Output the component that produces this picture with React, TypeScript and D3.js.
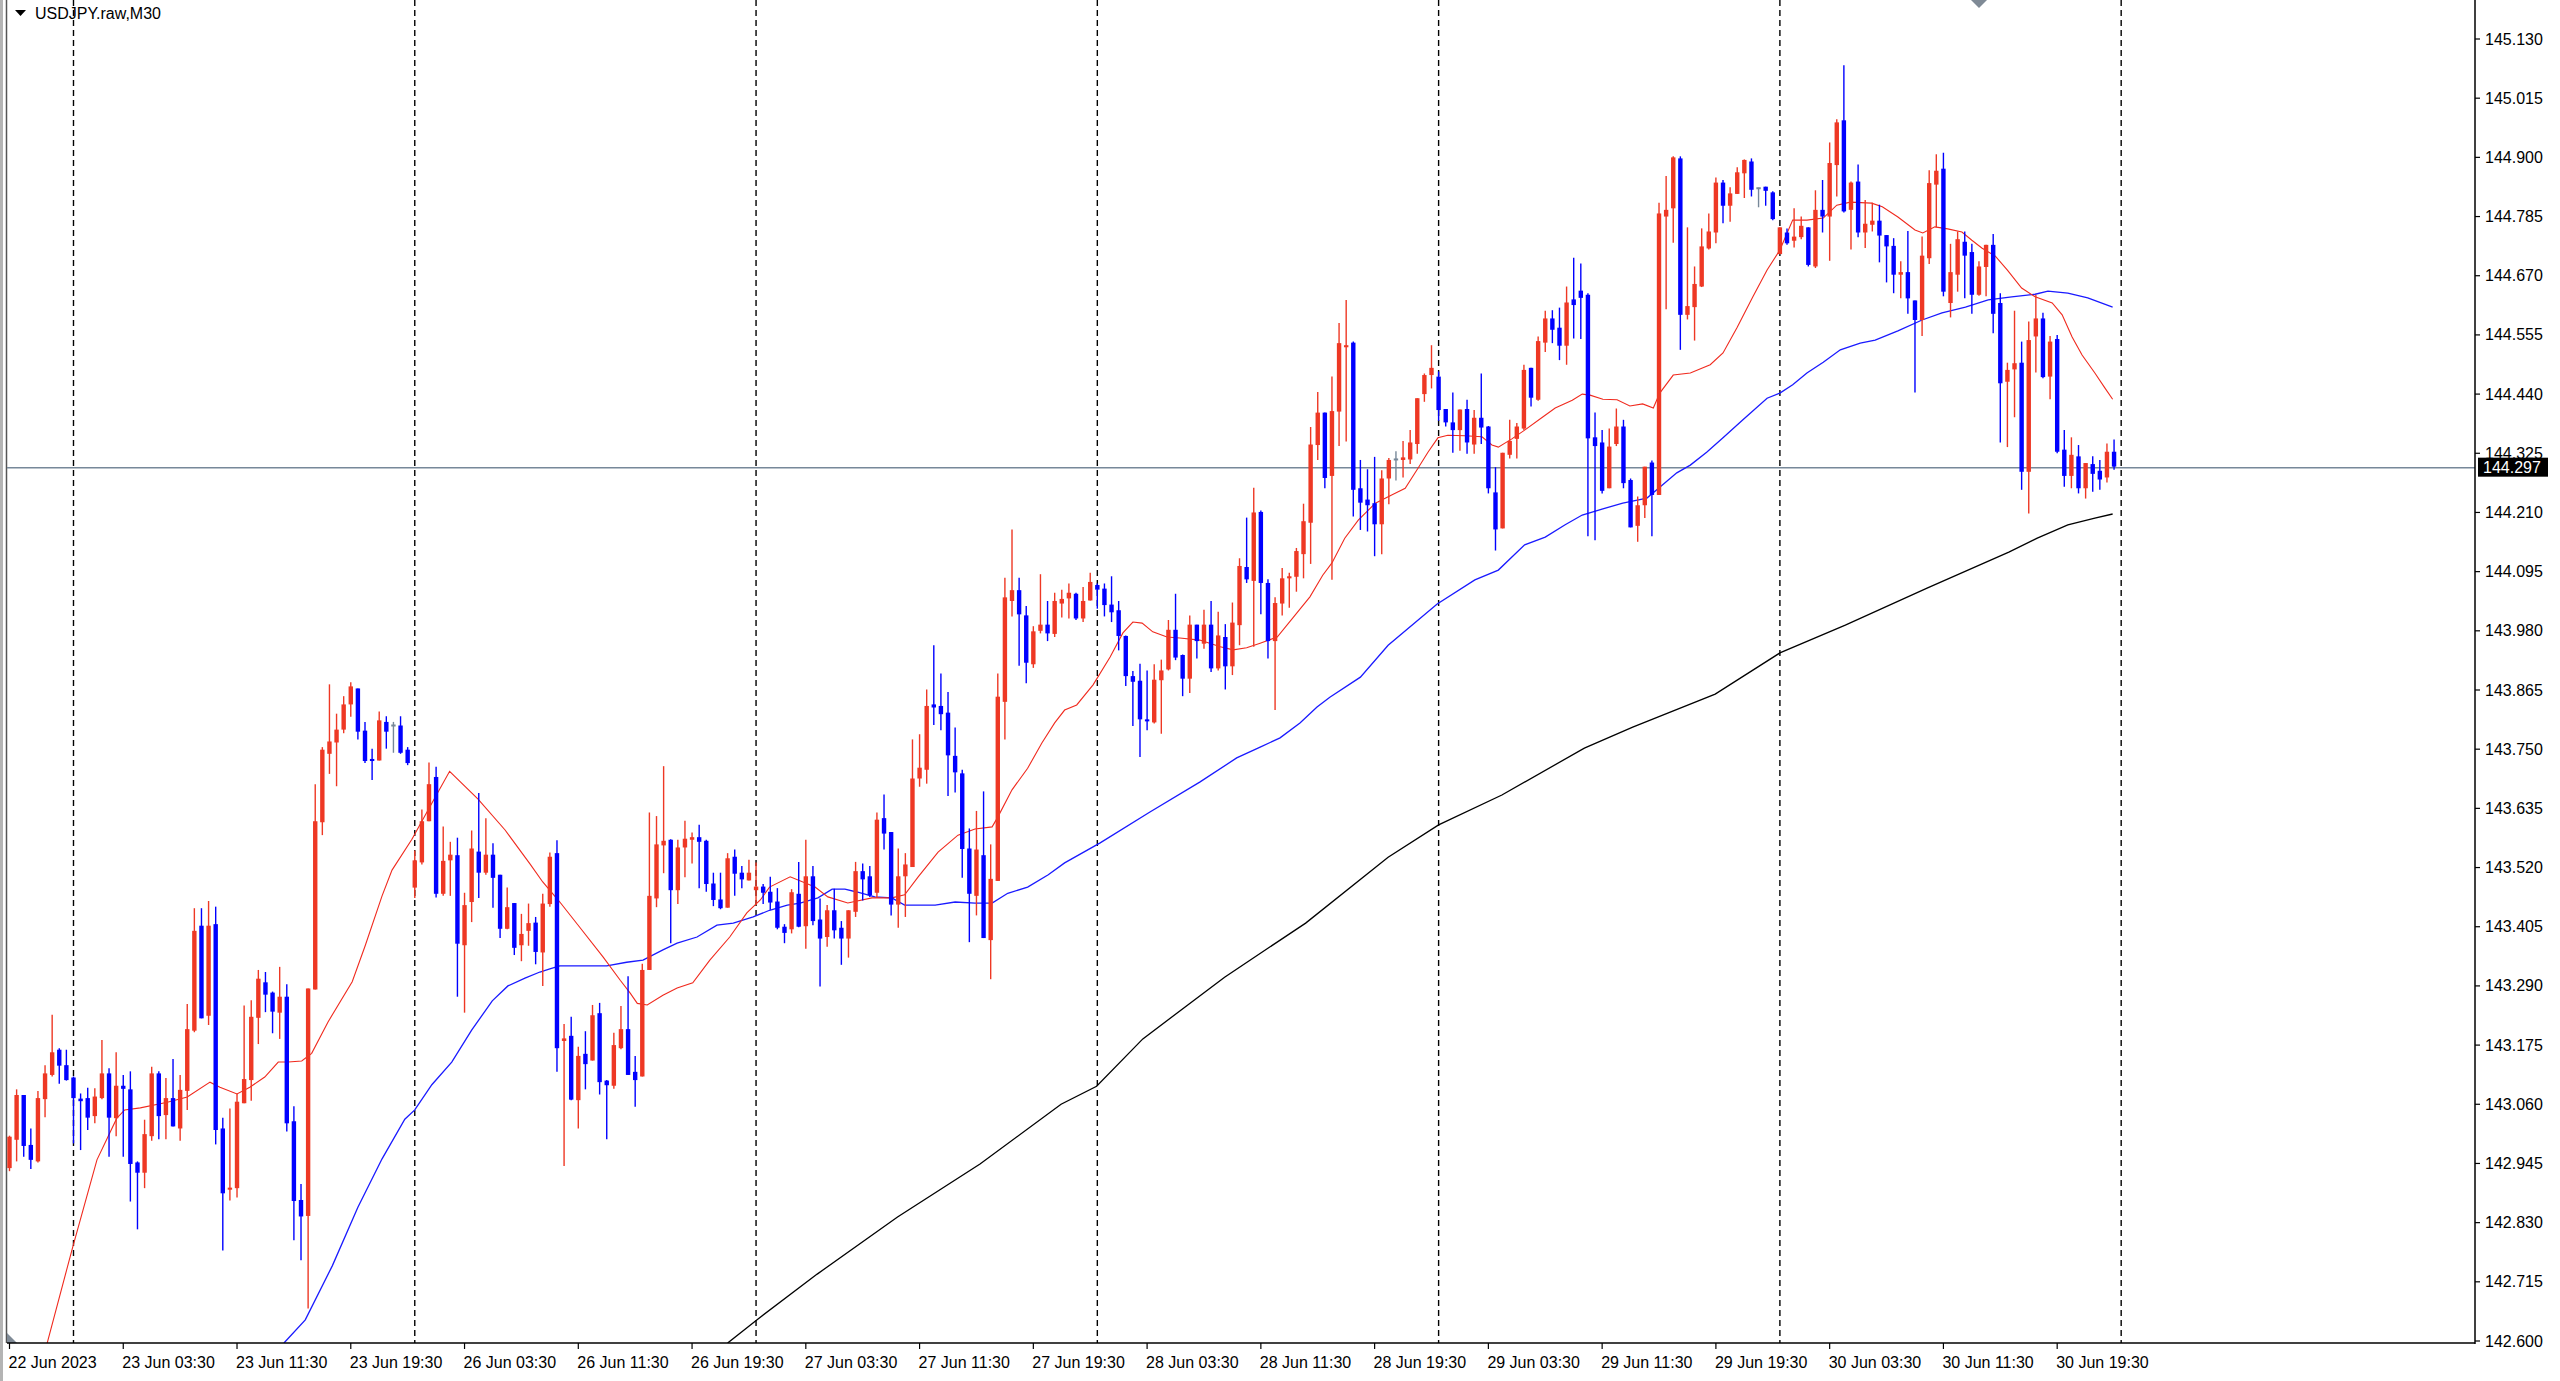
import React, { useRef, useEffect } from 'react';
import * as d3 from 'd3';

// USDJPY.raw M30, 22 Jun 19:30 .. 30 Jun 23:30 (bar index 0..296)
const opens = [
  142.936,142.991,143.078,142.981,142.949,143.070,143.117,143.166,143.136,143.112,
  143.071,143.072,143.037,143.072,143.120,143.033,143.096,143.089,142.947,142.927,
  142.998,143.120,143.039,143.072,143.013,143.086,143.203,143.407,143.232,143.410,
  143.013,142.894,142.897,143.062,143.107,143.228,143.297,143.277,143.238,143.269,
  143.027,142.874,142.843,143.283,143.608,143.741,143.763,143.788,143.837,143.868,
  143.786,143.731,143.728,143.803,143.796,143.796,143.749,143.481,143.530,143.610,
  143.696,143.469,143.534,143.544,143.369,143.453,143.551,143.510,143.545,143.506,
  143.401,143.451,143.369,143.397,143.413,143.355,143.449,143.548,143.183,143.193,
  143.068,143.158,143.145,143.237,143.106,143.096,143.169,143.206,143.123,143.114,
  143.321,143.460,143.563,143.574,143.476,143.559,143.574,143.579,143.572,143.489,
  143.458,143.442,143.541,143.510,143.495,143.476,143.483,143.473,143.454,143.405,
  143.400,143.469,143.406,143.503,143.419,143.385,143.437,143.403,143.382,143.434,
  143.513,143.503,143.471,143.616,143.589,143.448,143.503,143.521,143.693,143.710,
  143.837,143.834,143.821,143.737,143.703,143.557,143.465,143.544,143.379,143.494,
  143.842,144.038,144.059,144.010,143.915,143.980,143.992,143.974,144.033,144.043,
  144.052,144.004,144.039,144.069,144.062,144.031,144.020,143.970,143.892,143.883,
  143.806,143.802,143.884,143.905,143.982,143.933,143.887,143.992,143.955,143.992,
  143.907,143.968,143.911,143.991,144.104,144.077,144.211,144.073,143.960,144.033,
  144.082,144.085,144.129,144.190,144.341,144.404,144.281,144.406,144.531,144.540,
  144.257,144.235,144.228,144.187,144.276,144.313,144.312,144.313,144.343,144.440,
  144.477,144.474,144.411,144.385,144.370,144.411,144.342,144.394,144.377,144.249,
  144.179,144.322,144.353,144.373,144.491,144.429,144.540,144.587,144.569,144.534,
  144.624,144.641,144.633,144.356,144.346,144.257,144.343,144.377,144.273,144.184,
  144.224,144.307,144.244,144.785,144.801,144.898,144.594,144.609,144.649,144.723,
  144.754,144.851,144.806,144.829,144.869,144.892,144.840,144.843,144.832,144.712,
  144.754,144.738,144.745,144.764,144.688,144.798,144.785,144.885,144.972,144.798,
  144.853,144.754,144.769,144.777,144.749,144.728,144.672,144.677,144.622,144.584,
  144.704,144.847,144.878,144.617,144.672,144.736,144.716,144.633,144.687,144.730,
  144.617,144.464,144.488,144.501,144.289,144.552,144.587,144.474,144.547,144.332,
  144.281,144.319,144.257,144.304,144.291,144.278,144.328,
];

const highs = [
  142.999,143.089,143.078,143.013,143.086,143.136,143.234,143.169,143.166,143.114,
  143.081,143.092,143.091,143.185,143.130,143.161,143.117,143.124,142.949,143.030,
  143.133,143.124,143.111,143.148,143.117,143.255,143.441,143.441,143.455,143.444,
  143.034,143.052,143.081,143.252,143.262,143.321,143.317,143.279,143.327,143.293,
  143.056,142.905,143.285,143.682,143.754,143.876,143.819,143.853,143.880,143.868,
  143.803,143.751,143.823,143.814,143.803,143.814,143.754,143.553,143.633,143.724,
  143.716,143.600,143.570,143.578,143.471,143.592,143.665,143.616,143.567,143.506,
  143.481,143.451,143.430,143.450,143.424,143.469,143.549,143.573,143.216,143.230,
  143.172,143.202,143.253,143.257,143.107,143.199,143.251,143.309,143.154,143.333,
  143.627,143.620,143.717,143.575,143.574,143.611,143.588,143.603,143.574,143.510,
  143.510,143.548,143.555,143.523,143.535,143.530,143.488,143.502,143.480,143.410,
  143.478,143.531,143.574,143.523,143.460,143.447,143.479,143.416,143.437,143.531,
  143.528,143.523,143.627,143.662,143.589,143.557,143.548,143.769,143.779,143.866,
  143.952,143.897,143.861,143.792,143.710,143.596,143.630,143.668,143.565,143.897,
  144.083,144.177,144.083,144.028,143.989,144.090,144.038,144.054,144.060,144.072,
  144.054,144.065,144.093,144.072,144.072,144.086,144.038,143.971,143.902,143.916,
  143.903,143.915,143.924,144.001,144.052,143.934,144.010,143.992,144.021,144.038,
  144.017,143.993,144.035,144.121,144.200,144.258,144.214,144.080,144.045,144.102,
  144.093,144.141,144.227,144.376,144.444,144.404,144.474,144.578,144.623,144.542,
  144.312,144.294,144.318,144.292,144.316,144.329,144.349,144.370,144.432,144.480,
  144.535,144.484,144.411,144.443,144.410,144.429,144.409,144.480,144.378,144.298,
  144.326,144.390,144.384,144.497,144.491,144.552,144.602,144.603,144.608,144.649,
  144.705,144.694,144.636,144.404,144.370,144.373,144.412,144.390,144.276,144.241,
  144.299,144.311,144.812,144.864,144.902,144.902,144.764,144.688,144.762,144.791,
  144.861,144.856,144.842,144.881,144.896,144.898,144.841,144.843,144.834,144.764,
  144.762,144.801,144.785,144.764,144.836,144.856,144.929,144.974,145.079,144.853,
  144.886,144.817,144.812,144.808,144.749,144.743,144.698,144.757,144.622,144.746,
  144.875,144.906,144.909,144.732,144.756,144.756,144.732,144.698,144.730,144.751,
  144.636,144.501,144.602,144.542,144.581,144.633,144.598,144.553,144.555,144.370,
  144.356,144.341,144.306,144.319,144.312,144.344,144.352,
];

const lows = [
  142.930,142.949,142.958,142.934,142.947,143.035,143.114,143.100,143.106,142.984,
  142.971,143.010,143.023,143.070,142.958,142.998,142.958,142.871,142.817,142.897,
  142.989,142.992,142.992,143.017,142.989,143.049,143.200,143.227,143.214,142.982,
  142.776,142.873,142.879,143.062,143.067,143.177,143.239,143.198,143.187,143.007,
  142.796,142.757,142.663,143.283,143.583,143.702,143.678,143.781,143.813,143.769,
  143.723,143.690,143.728,143.751,143.743,143.741,143.719,143.461,143.526,143.610,
  143.462,143.465,143.465,143.269,143.238,143.414,143.461,143.506,143.442,143.383,
  143.400,143.350,143.338,143.368,143.332,143.290,143.444,143.123,142.940,143.068,
  143.013,143.089,143.145,143.079,142.992,143.090,143.167,143.117,143.055,143.114,
  143.321,143.443,143.509,143.373,143.449,143.501,143.528,143.480,143.473,143.445,
  143.439,143.442,143.465,143.480,143.495,143.447,143.449,143.438,143.400,143.373,
  143.392,143.404,143.362,143.408,143.289,143.366,143.382,143.331,143.345,143.424,
  143.456,143.463,143.461,143.555,143.427,143.403,143.424,143.521,143.677,143.683,
  143.797,143.787,143.659,143.666,143.500,143.375,143.427,143.383,143.303,143.494,
  143.769,144.008,143.912,143.878,143.908,143.975,143.960,143.968,144.006,144.004,
  144.001,143.997,144.039,144.023,144.008,143.997,143.942,143.873,143.795,143.735,
  143.787,143.800,143.780,143.903,143.923,143.853,143.859,143.926,143.945,143.900,
  143.903,143.866,143.894,143.952,144.073,143.949,144.012,143.926,143.826,144.010,
  144.025,144.056,144.082,144.110,144.312,144.257,144.079,144.339,144.348,144.202,
  144.176,144.173,144.125,144.129,144.226,144.272,144.278,144.304,144.324,144.425,
  144.451,144.388,144.377,144.326,144.330,144.324,144.324,144.343,144.247,144.136,
  144.179,144.315,144.315,144.370,144.416,144.427,144.522,144.539,144.506,144.497,
  144.548,144.547,144.164,144.156,144.247,144.257,144.339,144.257,144.181,144.153,
  144.199,144.164,144.244,144.605,144.734,144.526,144.585,144.544,144.648,144.721,
  144.733,144.772,144.775,144.829,144.821,144.824,144.803,144.806,144.778,144.712,
  144.730,144.725,144.741,144.688,144.685,144.754,144.699,144.824,144.793,144.721,
  144.745,144.724,144.756,144.696,144.657,144.636,144.626,144.596,144.443,144.553,
  144.693,144.764,144.630,144.589,144.639,144.626,144.596,144.631,144.630,144.558,
  144.346,144.337,144.395,144.254,144.208,144.482,144.471,144.430,144.325,144.260,
  144.257,144.247,144.237,144.250,144.254,144.268,144.293,
];

const closes = [
  142.997,143.078,142.979,142.952,143.072,143.120,143.161,143.135,143.107,143.072,
  143.066,143.034,143.075,143.120,143.034,143.096,143.090,142.944,142.927,143.002,
  143.120,143.037,143.072,143.017,143.088,143.206,143.397,143.227,143.407,143.010,
  142.887,142.898,143.065,143.109,143.230,143.304,143.273,143.240,143.269,143.023,
  142.872,142.842,143.285,143.610,143.749,143.765,143.788,143.837,143.872,143.784,
  143.727,143.727,143.806,143.784,143.796,143.743,143.723,143.534,143.610,143.682,
  143.469,143.533,143.545,143.372,143.447,143.557,143.510,143.545,143.500,143.401,
  143.443,143.364,143.391,143.412,143.356,143.450,143.541,143.169,143.188,143.069,
  143.154,143.138,143.233,143.103,143.097,143.175,143.206,143.117,143.107,143.321,
  143.465,143.565,143.572,143.476,143.559,143.576,143.579,143.570,143.488,143.457,
  143.441,143.538,143.508,143.497,143.510,143.483,143.471,143.452,143.403,143.393,
  143.472,143.405,143.503,143.416,143.382,143.437,143.398,143.382,143.437,143.513,
  143.497,143.466,143.613,143.586,143.448,143.503,143.526,143.693,143.714,143.834,
  143.831,143.818,143.738,143.705,143.556,143.469,143.555,143.383,143.498,143.852,
  144.045,144.059,144.012,143.918,143.979,143.992,143.975,144.038,144.042,144.054,
  144.004,144.038,144.075,144.060,144.030,144.016,143.970,143.892,143.881,143.808,
  143.803,143.885,143.903,143.982,143.928,143.887,143.992,143.960,143.992,143.907,
  143.971,143.911,143.996,144.106,144.080,144.210,144.073,143.960,144.034,144.082,
  144.086,144.135,144.193,144.342,144.404,144.277,144.407,144.539,144.535,144.254,
  144.229,144.224,144.187,144.276,144.312,144.313,144.317,144.346,144.432,144.477,
  144.491,144.409,144.385,144.370,144.410,144.346,144.394,144.375,144.257,144.177,
  144.326,144.349,144.377,144.487,144.433,144.543,144.587,144.565,144.534,144.618,
  144.613,144.627,144.354,144.339,144.252,144.338,144.377,144.267,144.181,144.224,
  144.299,144.244,144.791,144.798,144.900,144.594,144.611,144.654,144.727,144.756,
  144.851,144.806,144.830,144.871,144.895,144.837,144.840,144.835,144.780,144.764,
  144.733,144.746,144.767,144.691,144.798,144.785,144.889,144.968,144.795,144.851,
  144.754,144.771,144.777,144.748,144.727,144.672,144.677,144.626,144.584,144.709,
  144.850,144.874,144.639,144.677,144.741,144.709,144.633,144.688,144.730,144.596,
  144.461,144.487,144.500,144.289,144.545,144.587,144.473,144.542,144.328,144.281,
  144.322,144.257,144.306,144.285,144.274,144.328,144.299,
];

// moving averages: [bar index, price]
const redMa: [number, number][] = [
  [5.3,142.596],[8.9,142.783],[12.3,142.952],[14.1,143.004],[15.1,143.033],[16.2,143.049],
  [18.4,143.053],[22.2,143.064],[25,143.074],[28.2,143.103],[29.6,143.093],[32,143.080],
  [33.8,143.093],[35.9,143.113],[37.8,143.142],[39.2,143.142],[41.1,143.144],[42.5,143.159],
  [44.8,143.220],[48.2,143.298],[50,143.367],[52.4,143.465],[53.8,143.515],[56.6,143.575],
  [59.4,143.645],[61.9,143.707],[65.9,143.653],[69.7,143.593],[73.2,143.527],[75,143.492],
  [77.4,143.453],[80.2,143.404],[83.5,143.346],[85.9,143.301],[87.3,143.276],[88.3,143.256],
  [89.7,143.253],[91.9,143.272],[93.9,143.286],[96.1,143.296],[98.5,143.340],[101.3,143.385],
  [103.7,143.432],[105.6,143.457],[106.9,143.482],[109.8,143.502],[113.3,143.482],[115.1,143.463],
  [117.9,143.451],[121.3,143.461],[124.1,143.461],[125.9,143.467],[127.8,143.502],[130.6,143.550],
  [133.4,143.583],[135.8,143.595],[138.2,143.599],[139,143.618],[141,143.671],[143.2,143.713],
  [145.2,143.762],[147,143.801],[148.4,143.826],[150.1,143.836],[152.4,143.875],[154.8,143.929],
  [156.6,143.976],[158,143.997],[159.3,143.995],[160.8,143.978],[162.8,143.968],[164.6,143.966],
  [167.4,143.962],[170.3,143.949],[172.1,143.943],[174,143.947],[175.9,143.956],[178.3,143.968],
  [180.5,144.005],[182.9,144.046],[184.7,144.088],[186,144.112],[187.8,144.160],[189.7,144.195],
  [192.1,144.228],[194.4,144.244],[196.3,144.257],[198.1,144.296],[199.5,144.327],[200.9,144.355],
  [202.3,144.360],[204.7,144.359],[207.1,144.357],[208.5,144.341],[209.4,144.337],[211.3,144.353],
  [213.1,144.370],[215.5,144.394],[217.4,144.413],[219.8,144.428],[221.2,144.440],[222.3,144.438],
  [224.1,144.430],[226.1,144.429],[227.9,144.417],[229.7,144.421],[231.2,144.413],[232.1,144.442],
  [234,144.477],[236.4,144.481],[239.2,144.497],[241,144.520],[243,144.570],[245.2,144.629],
  [247.2,144.681],[249,144.720],[250.8,144.778],[252.8,144.778],[255.1,144.782],[257,144.807],
  [258.9,144.813],[261.9,144.811],[263.4,144.804],[265.6,144.784],[268,144.759],[269.1,144.753],
  [270.8,144.765],[272.6,144.761],[274.6,144.755],[276,144.739],[277.4,144.724],[279.3,144.708],
  [281,144.681],[283,144.646],[284.9,144.629],[287.3,144.617],[288.7,144.594],[290.1,144.551],
  [291.5,144.516],[293.3,144.481],[294.7,144.452],[295.8,144.430],
];

const blueMa: [number, number][] = [
  [38.6,142.596],[41.6,142.641],[45.4,142.746],[49,142.860],[52.4,142.954],[55.6,143.031],
  [57,143.049],[59.4,143.098],[62.2,143.142],[65,143.204],[67.9,143.261],[70.1,143.290],
  [72.5,143.305],[74.6,143.317],[76,143.323],[77.4,143.329],[84,143.329],[86.8,143.336],
  [89.1,143.340],[91.9,143.360],[93.9,143.373],[96.7,143.385],[99.5,143.408],[101.8,143.412],
  [104.6,143.424],[106.9,143.437],[109.4,143.447],[111.2,143.451],[113.7,143.461],[115.7,143.478],
  [117.5,143.478],[119.3,143.472],[121.7,143.463],[124.1,143.461],[125.9,143.447],[130.2,143.447],
  [133,143.453],[135.8,143.451],[138.2,143.451],[140.4,143.470],[143.2,143.482],[146.1,143.506],
  [148.4,143.529],[153.4,143.568],[160.4,143.628],[167.4,143.686],[172.6,143.733],[175.9,143.754],
  [178.7,143.772],[181.5,143.801],[183.9,143.832],[185.7,143.851],[190,143.890],[193.9,143.952],
  [200.8,144.032],[206.1,144.079],[209.4,144.098],[213.1,144.147],[216,144.162],[218.8,144.186],
  [221.2,144.205],[224.1,144.217],[226.9,144.228],[230.3,144.238],[232.1,144.259],[234.5,144.287],
  [236.4,144.302],[238.7,144.327],[241,144.355],[243.8,144.390],[247.2,144.432],[249,144.442],
  [250.8,144.458],[252.8,144.481],[255.1,144.502],[257.5,144.526],[260.3,144.539],[262.4,144.545],
  [265.6,144.563],[269,144.584],[271.8,144.598],[275.1,144.609],[278.3,144.623],[281.6,144.629],
  [284.9,144.634],[286.7,144.640],[289.5,144.636],[292.3,144.627],[295.8,144.609],
];

const blackMa: [number, number][] = [
  [101,142.596],[105.1,142.641],[113.6,142.730],[124.9,142.841],[136.5,142.944],[147.9,143.060],
  [152.9,143.095],[159.4,143.187],[170.9,143.307],[182.3,143.412],[193.9,143.540],[201,143.603],
  [209.9,143.661],[221.5,143.752],[228.3,143.793],[239.9,143.857],[249,143.937],[258.2,143.991],
  [269.7,144.063],[281.2,144.133],[285.2,144.160],[289.5,144.186],[293.3,144.199],[295.8,144.207],
];

const yTickLabels = [
  '142.600','142.715','142.830','142.945','143.060','143.175','143.290','143.405',
  '143.520','143.635','143.750','143.865','143.980','144.095','144.210','144.325',
  '144.440','144.555','144.670','144.785','144.900','145.015','145.130',
];

const timeLabelBars = [0,16,32,48,64,80,96,112,128,144,160,176,192,208,224,240,256,272,288];
const timeLabels = [
  '22 Jun 2023','23 Jun 03:30','23 Jun 11:30','23 Jun 19:30','26 Jun 03:30','26 Jun 11:30',
  '26 Jun 19:30','27 Jun 03:30','27 Jun 11:30','27 Jun 19:30','28 Jun 03:30','28 Jun 11:30',
  '28 Jun 19:30','29 Jun 03:30','29 Jun 11:30','29 Jun 19:30','30 Jun 03:30','30 Jun 11:30',
  '30 Jun 19:30',
];

// day separators (first bar of each day)
const separatorBars = [9, 57, 105, 153, 201, 249, 297];

const lastPrice = 144.297;
const title = 'USDJPY.raw,M30';

const App = () => {
  const svgRef = useRef<SVGSVGElement>(null);

  useEffect(() => {
    if (!svgRef.current) return;
    document.body.style.margin = '0';

    const svg = d3.select(svgRef.current);
    svg.selectAll('*').remove();

    const width = 2560;
    const height = 1381;
    const plot = { left: 7, right: 2475, top: 0, bottom: 1343 };
    const font = '"Liberation Sans", Arial, sans-serif';

    svg.attr('width', width).attr('height', height).style('background', '#fff');

    const x = d3.scaleLinear().domain([0, 297]).range([9.5, 9.5 + 7.11 * 297]);
    const y = d3.scaleLinear().domain([142.6, 145.13]).range([1341, 39]);

    svg.append('defs').append('clipPath').attr('id', 'plotClip')
      .append('rect')
      .attr('x', plot.left).attr('y', plot.top)
      .attr('width', plot.right - plot.left).attr('height', plot.bottom - plot.top);

    // left window border
    svg.append('rect').attr('x', 0).attr('y', 0).attr('width', 3).attr('height', height).attr('fill', '#b4b4b4');
    svg.append('line').attr('x1', 6.5).attr('x2', 6.5).attr('y1', 0).attr('y2', plot.bottom)
      .attr('stroke', '#555').attr('stroke-width', 1.5);

    const plotG = svg.append('g').attr('clip-path', 'url(#plotClip)');

    // day separators
    plotG.selectAll('.sep')
      .data(separatorBars)
      .enter()
      .append('line')
      .attr('x1', d => x(d)).attr('x2', d => x(d))
      .attr('y1', plot.top).attr('y2', plot.bottom)
      .attr('stroke', '#000').attr('stroke-width', 1.4).attr('stroke-dasharray', '6,4');

    // last price line
    plotG.append('line')
      .attr('x1', plot.left).attr('x2', plot.right)
      .attr('y1', y(lastPrice)).attr('y2', y(lastPrice))
      .attr('stroke', '#778899').attr('stroke-width', 1.4);

    // moving averages
    const line = d3.line<[number, number]>()
      .x(d => x(d[0]))
      .y(d => y(d[1]))
      .curve(d3.curveLinear);

    plotG.append('path').datum(blackMa).attr('d', line)
      .attr('fill', 'none').attr('stroke', '#000').attr('stroke-width', 1.3);
    plotG.append('path').datum(blueMa).attr('d', line)
      .attr('fill', 'none').attr('stroke', '#1a1aff').attr('stroke-width', 1.3);
    plotG.append('path').datum(redMa).attr('d', line)
      .attr('fill', 'none').attr('stroke', '#f02a1e').attr('stroke-width', 1.1);

    // candles
    const bars = opens.map((o, i) => ({ i, o, h: highs[i], l: lows[i], c: closes[i] }));
    const colorOf = (d: { o: number; c: number }) =>
      d.c > d.o ? '#ee3824' : d.c < d.o ? '#0000ff' : '#778899';
    const bodyW = 4.4;

    const candle = plotG.selectAll('.candle')
      .data(bars)
      .enter()
      .append('g')
      .attr('class', 'candle');

    candle.append('line')
      .attr('x1', d => x(d.i)).attr('x2', d => x(d.i))
      .attr('y1', d => y(Math.max(d.h, d.o, d.c)))
      .attr('y2', d => y(Math.min(d.l, d.o, d.c)))
      .attr('stroke', colorOf)
      .attr('stroke-width', 1.4);

    candle.append('rect')
      .attr('x', d => x(d.i) - bodyW / 2)
      .attr('y', d => y(Math.max(d.o, d.c)) - (Math.abs(y(d.o) - y(d.c)) < 2 ? 1 : 0))
      .attr('width', bodyW)
      .attr('height', d => Math.max(2, Math.abs(y(d.o) - y(d.c))))
      .attr('fill', colorOf);

    // chart shift marker at top and scale marker bottom-left
    svg.append('path').attr('d', 'M1971,0 L1987,0 L1979,8 Z').attr('fill', '#7f8a96');
    svg.append('path').attr('d', `M7,1333 L7,${plot.bottom} L17,${plot.bottom} Z`).attr('fill', '#7f8a96');

    // axes frame
    svg.append('line').attr('x1', plot.right).attr('x2', plot.right).attr('y1', 0).attr('y2', plot.bottom + 1)
      .attr('stroke', '#000').attr('stroke-width', 1.5);
    svg.append('line').attr('x1', plot.left).attr('x2', plot.right).attr('y1', plot.bottom).attr('y2', plot.bottom)
      .attr('stroke', '#000').attr('stroke-width', 1.5);

    // price scale
    const yAxis = svg.append('g');
    yAxis.selectAll('.ytick')
      .data(yTickLabels)
      .enter()
      .append('line')
      .attr('x1', plot.right).attr('x2', plot.right + 5)
      .attr('y1', d => y(+d)).attr('y2', d => y(+d))
      .attr('stroke', '#000').attr('stroke-width', 1.2);
    yAxis.selectAll('.ylabel')
      .data(yTickLabels)
      .enter()
      .append('text')
      .attr('x', plot.right + 10)
      .attr('y', d => y(+d) + 5.5)
      .attr('font-family', font)
      .attr('font-size', 16)
      .attr('fill', '#000')
      .text(d => d);

    // current price tag
    yAxis.append('rect')
      .attr('x', plot.right + 3).attr('y', y(lastPrice) - 10)
      .attr('width', 70).attr('height', 19)
      .attr('fill', '#000');
    yAxis.append('text')
      .attr('x', plot.right + 8).attr('y', y(lastPrice) + 5.5)
      .attr('font-family', font).attr('font-size', 16)
      .attr('fill', '#fff')
      .text(lastPrice.toFixed(3));

    // time scale
    const xAxis = svg.append('g');
    xAxis.selectAll('.xtick')
      .data(timeLabelBars)
      .enter()
      .append('line')
      .attr('x1', d => x(d)).attr('x2', d => x(d))
      .attr('y1', plot.bottom).attr('y2', plot.bottom + 6)
      .attr('stroke', '#000').attr('stroke-width', 1.2);
    xAxis.selectAll('.xlabel')
      .data(timeLabelBars)
      .enter()
      .append('text')
      .attr('x', d => x(d) - 1)
      .attr('y', plot.bottom + 25)
      .attr('font-family', font)
      .attr('font-size', 16)
      .attr('fill', '#000')
      .text((d, i) => timeLabels[i]);

    // title
    svg.append('path').attr('d', 'M15,10 L26,10 L20.5,16 Z').attr('fill', '#000');
    svg.append('text')
      .attr('x', 35).attr('y', 19)
      .attr('font-family', font).attr('font-size', 16)
      .attr('fill', '#000')
      .text(title);
  }, []);

  return (
    <div style={{ position: 'absolute', left: 0, top: 0, width: 2560, height: 1381, background: '#fff' }}>
      <svg ref={svgRef}></svg>
    </div>
  );
};

export default App;
